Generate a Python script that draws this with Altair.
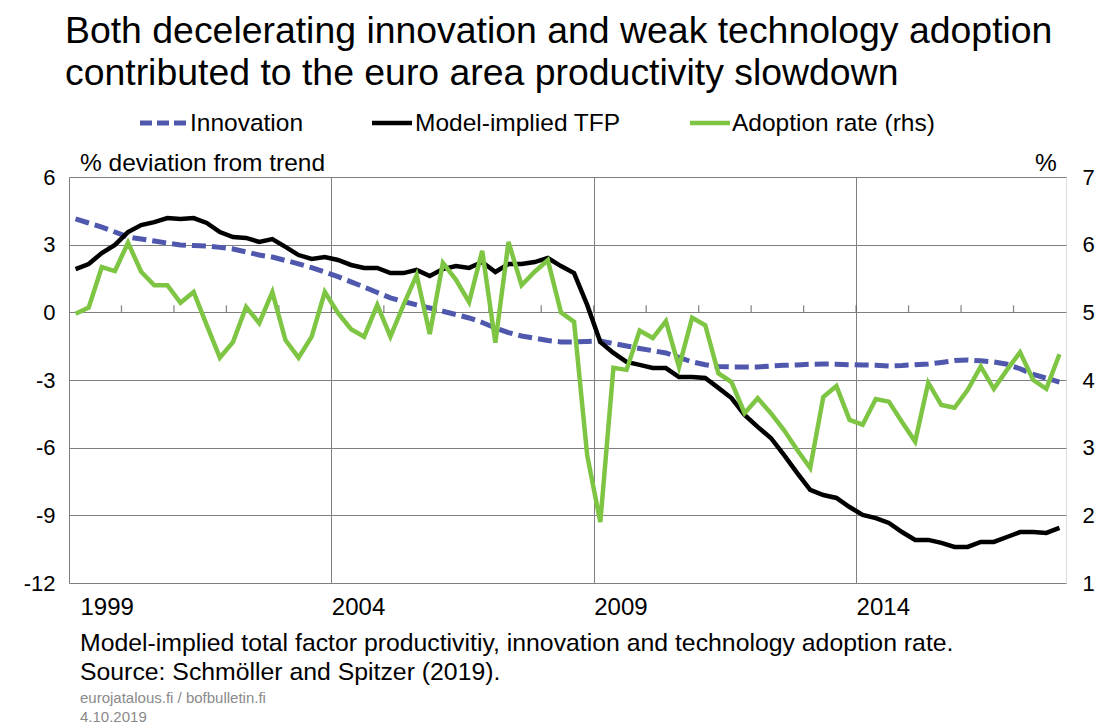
import altair as alt
import pandas as pd

FONT = "Liberation Sans"

# ---------------- data (quarterly, 1999Q1 - 2017Q4) ----------------
start_year = 1999
n_quarters = 76

innovation = [4.14, 3.96, 3.78, 3.56, 3.34, 3.25, 3.16, 3.07, 2.99, 2.96,
              2.94, 2.88, 2.81, 2.68, 2.54, 2.45, 2.30, 2.15, 1.98, 1.79,
              1.58, 1.35, 1.12, 0.88, 0.64, 0.48, 0.33, 0.19, 0.05, -0.10,
              -0.25, -0.45, -0.69, -0.90, -1.05, -1.15, -1.25, -1.31, -1.31, -1.29,
              -1.27, -1.38, -1.49, -1.60, -1.70, -1.80, -2.00, -2.20, -2.32, -2.40,
              -2.42, -2.42, -2.42, -2.38, -2.35, -2.33, -2.30, -2.29, -2.30, -2.32,
              -2.33, -2.35, -2.38, -2.36, -2.32, -2.29, -2.22, -2.14, -2.11, -2.15,
              -2.20, -2.30, -2.50, -2.75, -2.92, -3.09]

tfp = [1.92, 2.14, 2.63, 2.99, 3.56, 3.87, 4.00, 4.18, 4.14, 4.18,
       3.96, 3.56, 3.34, 3.30, 3.12, 3.25, 2.90, 2.54, 2.37, 2.45,
       2.32, 2.10, 1.97, 1.97, 1.74, 1.74, 1.88, 1.61, 1.92, 2.05,
       1.97, 2.23, 1.79, 2.14, 2.14, 2.23, 2.41, 2.05, 1.74, 0.33,
       -1.31, -1.80, -2.20, -2.33, -2.47, -2.47, -2.87, -2.87, -2.91, -3.35,
       -3.80, -4.55, -5.08, -5.57, -6.32, -7.12, -7.87, -8.10, -8.23, -8.63,
       -8.98, -9.12, -9.34, -9.74, -10.09, -10.09, -10.22, -10.40, -10.40, -10.18,
       -10.18, -9.96, -9.74, -9.74, -9.78, -9.56]

adoption = [4.98, 5.07, 5.67, 5.61, 6.03, 5.60, 5.40, 5.40, 5.14, 5.30,
            4.81, 4.33, 4.56, 5.08, 4.84, 5.30, 4.59, 4.33, 4.64, 5.30,
            4.99, 4.75, 4.64, 5.11, 4.64, 5.11, 5.55, 4.68, 5.73, 5.48,
            5.15, 5.91, 4.55, 6.04, 5.40, 5.60, 5.77, 5.00, 4.86, 2.89,
            1.90, 4.18, 4.15, 4.73, 4.62, 4.87, 4.19, 4.92, 4.81, 4.10,
            3.97, 3.51, 3.73, 3.51, 3.26, 2.97, 2.70, 3.75, 3.91, 3.41,
            3.34, 3.72, 3.68, 3.38, 3.09, 3.96, 3.63, 3.59, 3.85, 4.20,
            3.87, 4.15, 4.41, 4.00, 3.87, 4.38]

year_ticks = list(range(2000, 2018))
x_label_years = [1999, 2004, 2009, 2014]
left_ticks = [-12, -9, -6, -3, 0, 3, 6]
right_ticks = [1, 2, 3, 4, 5, 6, 7]

title_lines = ["Both decelerating innovation and weak technology adoption",
               "contributed to the euro area productivity slowdown"]
legend_labels = ["Innovation", "Model-implied TFP", "Adoption rate (rhs)"]
caption_lines = ["Model-implied total factor productivitiy, innovation and technology adoption rate.",
                 "Source: Schmöller and Spitzer (2019)."]
footer_lines = ["eurojatalous.fi / bofbulletin.fi", "4.10.2019"]

BLUE = "#5058ae"
GREEN = "#7ec544"
GRID = "#7f7f7f"

time = [start_year + (q + 0.5) / 4 for q in range(n_quarters)]
df = pd.DataFrame({"time": time, "innovation": innovation, "tfp": tfp, "adoption": adoption})
ticks_df = pd.DataFrame({"time": year_ticks, "zero": [0] * len(year_ticks)})

W, H = 997, 406

x_scale = alt.Scale(domain=[1999, 2018], nice=False, zero=False)
x_axis = alt.Axis(values=x_label_years, format="d", labelAlign="left", labelFlush=False,
                  labelFontSize=24, labelFont=FONT, labelColor="black", labelPadding=12,
                  labelOffset={"condition": {"test": "datum.value == 1999", "value": 11}, "value": 0},
                  ticks=False, domain=False, grid=True, gridColor=GRID, gridWidth=1,
                  gridOpacity=1, title=None)
X = alt.X("time:Q", scale=x_scale, axis=x_axis)

NUM_EXPR = "'' + datum.value"
yl_scale = alt.Scale(domain=[-12, 6], nice=False, zero=False)
yl_axis = alt.Axis(values=left_ticks, orient="left", labelFontSize=22, labelFont=FONT,
                   labelColor="black", labelPadding=14, ticks=False, domain=False,
                   labelExpr=NUM_EXPR,
                   grid=True, gridColor=GRID, gridWidth=1, gridOpacity=1, title=None)
yr_scale = alt.Scale(domain=[1, 7], nice=False, zero=False)
yr_axis = alt.Axis(values=right_ticks, orient="right", labelFontSize=22, labelFont=FONT,
                   labelColor="black", labelPadding=16, ticks=False, domain=False,
                   labelExpr=NUM_EXPR, grid=False, title=None)

base = alt.Chart(df)

year_marks = alt.Chart(ticks_df).mark_tick(orient="vertical", size=7, thickness=1.3,
                                           color="#555555", yOffset=-3.5).encode(
    x=X, y=alt.Y("zero:Q", scale=yl_scale, axis=yl_axis))

innov_line = base.mark_line(color=BLUE, strokeWidth=5, strokeDash=[14, 6], strokeCap="butt").encode(
    x=X, y=alt.Y("innovation:Q", scale=yl_scale, axis=yl_axis))

tfp_line = base.mark_line(color="black", strokeWidth=4.5).encode(
    x=X, y=alt.Y("tfp:Q", scale=yl_scale, axis=yl_axis))

left_layer = alt.layer(year_marks, innov_line, tfp_line)

adopt_line = base.mark_line(color=GREEN, strokeWidth=4.5).encode(
    x=X, y=alt.Y("adoption:Q", scale=yr_scale, axis=yr_axis))


def txt(s, x, y, size, color="black"):
    return alt.Chart(pd.DataFrame({"s": [s]})).mark_text(
        align="left", baseline="alphabetic", fontSize=size, font=FONT, color=color
    ).encode(x=alt.value(x), y=alt.value(y), text="s:N")


def leg_line(x1, x2, y, color, dash=None, width=4.5):
    kw = dict(color=color, strokeWidth=width, strokeCap="butt")
    if dash:
        kw["strokeDash"] = dash
    return alt.Chart(pd.DataFrame({"k": [0]})).mark_rule(**kw).encode(
        x=alt.value(x1), x2=alt.value(x2), y=alt.value(y))


texts = [
    txt(title_lines[0], -4, -134, 37.4),
    txt(title_lines[1], -4, -92, 37.4),
    leg_line(71, 119, -54, BLUE, dash=[12, 5], width=5),
    txt(legend_labels[0], 121, -46, 24.5),
    leg_line(303, 343, -54, "black"),
    txt(legend_labels[1], 346, -46, 24.5),
    leg_line(621, 661, -54, GREEN),
    txt(legend_labels[2], 663, -46, 24.5),
    txt("% deviation from trend", 11, -6, 24.5),
    txt("%", 966, -6, 24.5),
    txt(caption_lines[0], 11, 474, 24.8),
    txt(caption_lines[1], 11, 503, 24.8),
    txt(footer_lines[0], 11, 526, 15, "#8a8a8a"),
    txt(footer_lines[1], 11, 545, 15, "#8a8a8a"),
]

chart = alt.layer(left_layer, adopt_line, *texts).resolve_scale(y="independent").properties(
    width=W, height=H,
    autosize=alt.AutoSizeParams(type="none"),
    padding={"left": 61, "top": 169, "right": 29, "bottom": 143},
).configure_view(stroke="black", strokeWidth=2).configure(background="white")

chart.save("out.html", embed_options={"renderer": "svg", "actions": False})
